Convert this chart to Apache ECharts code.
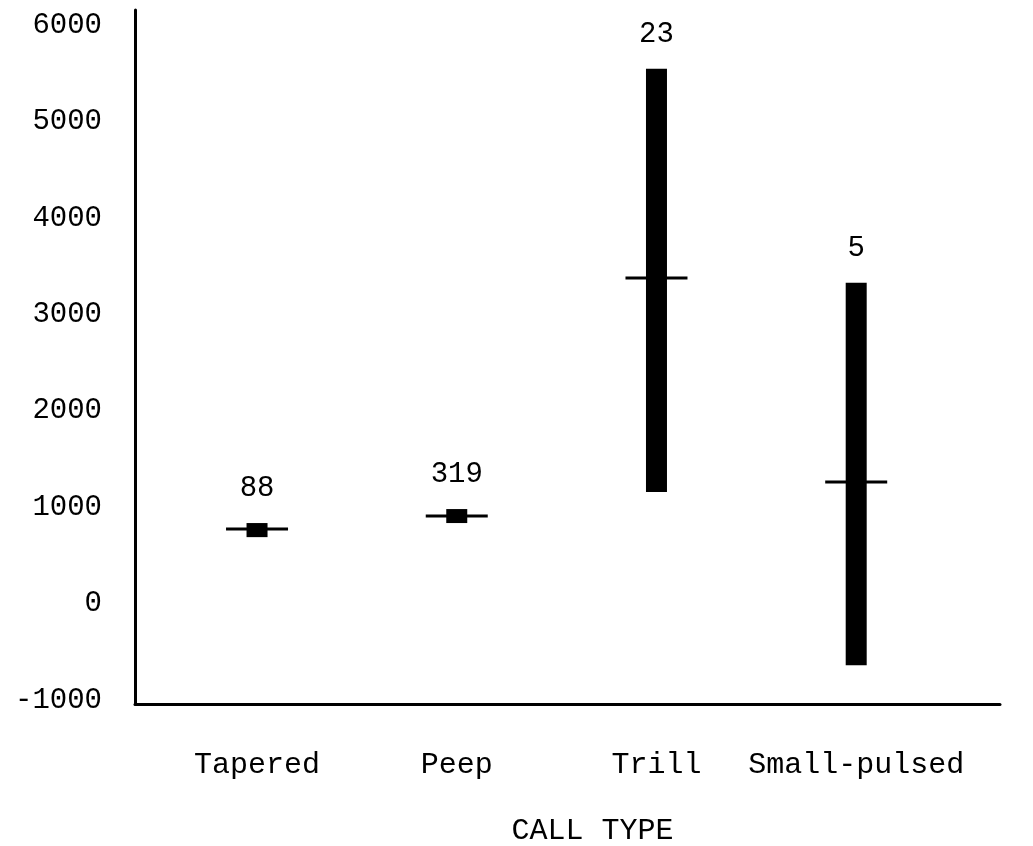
<!DOCTYPE html>
<html>
<head>
<meta charset="utf-8">
<script src="https://cdn.jsdelivr.net/npm/echarts@6/dist/echarts.min.js"></script>
<style>
  html, body { margin: 0; padding: 0; background: #fff; }
  #chart { width: 1033px; height: 846px; }
</style>
</head>
<body>
<div id="chart"></div>
<script>
const categories = ['Tapered', 'Peep', 'Trill', 'Small-pulsed'];
const lowValues  = [690, 836, 1157, -637];
const meanValues = [774, 908, 3376, 1262];
const highValues = [836, 981, 5545, 3326];
const counts     = [88, 319, 23, 5];
const yTickValues = [-1000, 0, 1000, 2000, 3000, 4000, 5000, 6000];
const axisTitle = 'CALL TYPE';

const FONT = '"Liberation Mono", "DejaVu Sans Mono", monospace';
const seriesData = categories.map((c, i) => [i, lowValues[i], meanValues[i], highValues[i], counts[i]]);

const chart = echarts.init(document.getElementById('chart'), null, { renderer: 'canvas' });
chart.setOption({
  backgroundColor: '#fff',
  animation: false,
  grid: { left: 135, right: 33, top: 10, bottom: 142, containLabel: false, outerBoundsMode: 'none' },
  xAxis: {
    type: 'value',
    min: -0.611,
    max: 3.72,
    axisLine: { show: true, onZero: false, lineStyle: { color: '#000', width: 3 } },
    axisTick: { show: false },
    splitLine: { show: false },
    axisLabel: {
      customValues: categories.map((c, i) => i),
      formatter: v => categories[Math.round(v)] || '',
      margin: 46,
      color: '#000',
      fontFamily: FONT,
      fontSize: 30
    },
    name: axisTitle,
    nameLocation: 'middle',
    nameGap: 112,
    nameTextStyle: { color: '#000', fontFamily: FONT, fontSize: 30, padding: [0, 0, 0, 50] }
  },
  yAxis: {
    type: 'value',
    min: -1040,
    max: 6155,
    axisLine: { show: true, onZero: false, lineStyle: { color: '#000', width: 3 } },
    axisTick: { show: false },
    splitLine: { show: false },
    axisLabel: {
      customValues: yTickValues,
      formatter: v => String(v),
      margin: 33,
      color: '#000',
      fontFamily: FONT,
      fontSize: 29
    }
  },
  series: [{
    type: 'custom',
    data: seriesData,
    encode: { x: 0, y: [1, 2, 3] },
    renderItem: function (params, api) {
      const x = api.value(0);
      const pLo = api.coord([x, api.value(1)]);
      const pM = api.coord([x, api.value(2)]);
      const pHi = api.coord([x, api.value(3)]);
      const barW = 21, meanW = 62;
      return {
        type: 'group',
        children: [
          { type: 'rect', shape: { x: pHi[0] - barW / 2, y: pHi[1], width: barW, height: pLo[1] - pHi[1] },
            style: { fill: '#000' } },
          { type: 'line', shape: { x1: pM[0] - meanW / 2, y1: pM[1], x2: pM[0] + meanW / 2, y2: pM[1] },
            style: { stroke: '#000', lineWidth: 3 } },
          { type: 'text', x: pHi[0], y: pHi[1] - 35,
            style: { text: String(api.value(4)), fill: '#000', font: '29px ' + FONT, align: 'center', verticalAlign: 'middle' } }
        ]
      };
    }
  }]
});
</script>
</body>
</html>
